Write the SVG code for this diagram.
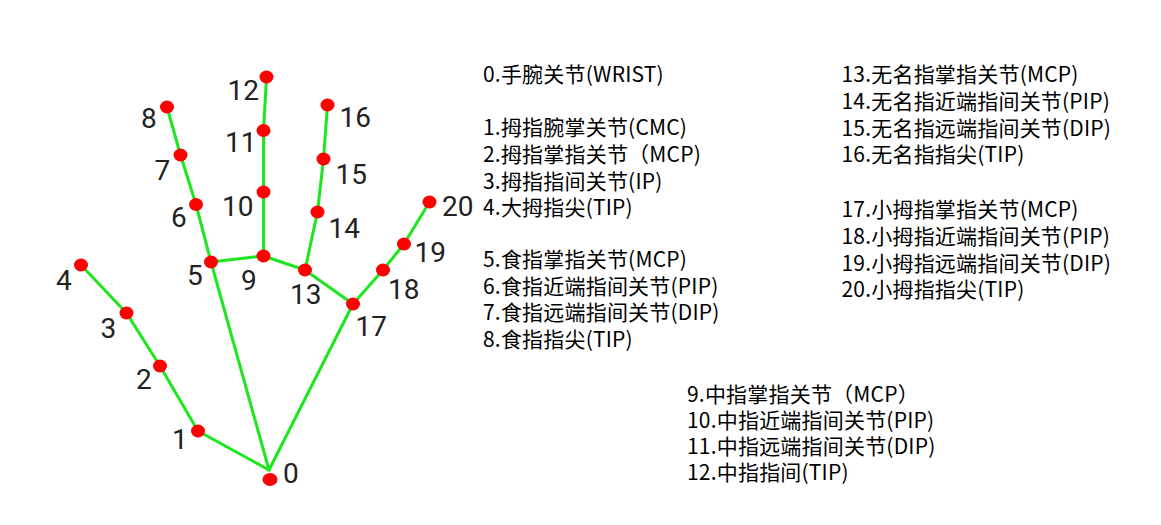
<svg xmlns="http://www.w3.org/2000/svg" width="1161" height="525" viewBox="0 0 1161 525">
<style>
.c line{stroke:#1ee61e;stroke-width:3;stroke-linecap:round}
.dot{fill:#ff0000}
.lbl{font-family:Roboto,"Liberation Sans",sans-serif;font-size:28px;fill:#222}
.t{font-family:"Noto Sans CJK SC","Noto Sans",sans-serif;font-size:21px;letter-spacing:0.2px;fill:#000}
</style>
<rect width="1161" height="525" fill="#fff"/>
<g class="c" id="connectors">
<line x1="269" y1="470" x2="198" y2="431"/>
<line x1="198" y1="431" x2="160" y2="366"/>
<line x1="160" y1="366" x2="126.5" y2="313"/>
<line x1="126.5" y1="313" x2="81" y2="265"/>
<line x1="269" y1="470" x2="211" y2="262"/>
<line x1="211" y1="262" x2="196" y2="204.5"/>
<line x1="196" y1="204.5" x2="180.5" y2="155"/>
<line x1="180.5" y1="155" x2="167" y2="107"/>
<line x1="211" y1="262" x2="263.5" y2="256"/>
<line x1="263.5" y1="256" x2="263.5" y2="192"/>
<line x1="263.5" y1="192" x2="263.5" y2="130.5"/>
<line x1="263.5" y1="130.5" x2="266.5" y2="77"/>
<line x1="263.5" y1="256" x2="305" y2="270"/>
<line x1="305" y1="270" x2="317.5" y2="212"/>
<line x1="317.5" y1="212" x2="323.5" y2="159"/>
<line x1="323.5" y1="159" x2="327.5" y2="105"/>
<line x1="305" y1="270" x2="353" y2="304"/>
<line x1="353" y1="304" x2="383" y2="270"/>
<line x1="383" y1="270" x2="404" y2="244"/>
<line x1="404" y1="244" x2="429.5" y2="202"/>
<line x1="269" y1="470" x2="353" y2="304"/>
</g>
<g id="n0"><ellipse class="dot" cx="270" cy="479.5" rx="7.5" ry="6.5"/><text class="lbl" x="283" y="482.5">0</text></g>
<g id="n1"><ellipse class="dot" cx="198" cy="431" rx="7" ry="6.5"/><text class="lbl" x="172" y="449">1</text></g>
<g id="n2"><ellipse class="dot" cx="160" cy="366" rx="7" ry="6.5"/><text class="lbl" x="136" y="388.5">2</text></g>
<g id="n3"><ellipse class="dot" cx="126.5" cy="313" rx="7" ry="6.5"/><text class="lbl" x="100.5" y="337.5">3</text></g>
<g id="n4"><ellipse class="dot" cx="81" cy="265" rx="7" ry="6.5"/><text class="lbl" x="56" y="290">4</text></g>
<g id="n5"><ellipse class="dot" cx="211" cy="262" rx="7" ry="6.5"/><text class="lbl" x="187" y="285">5</text></g>
<g id="n6"><ellipse class="dot" cx="196" cy="204.5" rx="7" ry="6.5"/><text class="lbl" x="171" y="227">6</text></g>
<g id="n7"><ellipse class="dot" cx="180.5" cy="155" rx="7" ry="6.5"/><text class="lbl" x="154.5" y="180">7</text></g>
<g id="n8"><ellipse class="dot" cx="167" cy="107" rx="7" ry="6.5"/><text class="lbl" x="141" y="128">8</text></g>
<g id="n9"><ellipse class="dot" cx="263.5" cy="256" rx="7" ry="6.5"/><text class="lbl" x="241" y="289.5">9</text></g>
<g id="n10"><ellipse class="dot" cx="263.5" cy="192" rx="7" ry="6.5"/><text class="lbl" x="222" y="216">10</text></g>
<g id="n11"><ellipse class="dot" cx="263.5" cy="130.5" rx="7" ry="6.5"/><text class="lbl" x="225" y="152">11</text></g>
<g id="n12"><ellipse class="dot" cx="266.5" cy="77" rx="7" ry="6.5"/><text class="lbl" x="227.5" y="100">12</text></g>
<g id="n13"><ellipse class="dot" cx="305" cy="270" rx="7" ry="6.5"/><text class="lbl" x="290" y="304">13</text></g>
<g id="n14"><ellipse class="dot" cx="317.5" cy="212" rx="7" ry="6.5"/><text class="lbl" x="328.5" y="237.5">14</text></g>
<g id="n15"><ellipse class="dot" cx="323.5" cy="159" rx="7" ry="6.5"/><text class="lbl" x="335.5" y="183.5">15</text></g>
<g id="n16"><ellipse class="dot" cx="327.5" cy="105" rx="7" ry="6.5"/><text class="lbl" x="339.5" y="127">16</text></g>
<g id="n17"><ellipse class="dot" cx="353" cy="304" rx="7" ry="6.5"/><text class="lbl" x="355.5" y="336">17</text></g>
<g id="n18"><ellipse class="dot" cx="383" cy="270" rx="7" ry="6.5"/><text class="lbl" x="388" y="298.5">18</text></g>
<g id="n19"><ellipse class="dot" cx="404" cy="244" rx="7" ry="6.5"/><text class="lbl" x="414.5" y="262">19</text></g>
<g id="n20"><ellipse class="dot" cx="429.5" cy="202" rx="7" ry="6.5"/><text class="lbl" x="442" y="216">20</text></g>
<g id="legend">
<text class="t" x="483" y="81.5">0.手腕关节(WRIST)</text>
<text class="t" x="483" y="135">1.拇指腕掌关节(CMC)</text>
<text class="t" x="483" y="162">2.拇指掌指关节（MCP)</text>
<text class="t" x="483" y="189">3.拇指指间关节(IP)</text>
<text class="t" x="483" y="215">4.大拇指尖(TIP)</text>
<text class="t" x="483" y="266.5">5.食指掌指关节(MCP)</text>
<text class="t" x="483" y="293.5">6.食指近端指间关节(PIP)</text>
<text class="t" x="483" y="320">7.食指远端指间关节(DIP)</text>
<text class="t" x="483" y="347">8.食指指尖(TIP)</text>
<text class="t" x="841.5" y="81.5">13.无名指掌指关节(MCP)</text>
<text class="t" x="841.5" y="108.5">14.无名指近端指间关节(PIP)</text>
<text class="t" x="841.5" y="135.5">15.无名指远端指间关节(DIP)</text>
<text class="t" x="841.5" y="162">16.无名指指尖(TIP)</text>
<text class="t" x="841.5" y="216.5">17.小拇指掌指关节(MCP)</text>
<text class="t" x="841.5" y="243.5">18.小拇指近端指间关节(PIP)</text>
<text class="t" x="841.5" y="270.5">19.小拇指远端指间关节(DIP)</text>
<text class="t" x="841.5" y="297">20.小拇指指尖(TIP)</text>
<text class="t" x="687" y="401.5">9.中指掌指关节（MCP）</text>
<text class="t" x="687" y="427.5">10.中指近端指间关节(PIP)</text>
<text class="t" x="687" y="453.5">11.中指远端指间关节(DIP)</text>
<text class="t" x="687" y="480">12.中指指间(TIP)</text>
</g>
</svg>
